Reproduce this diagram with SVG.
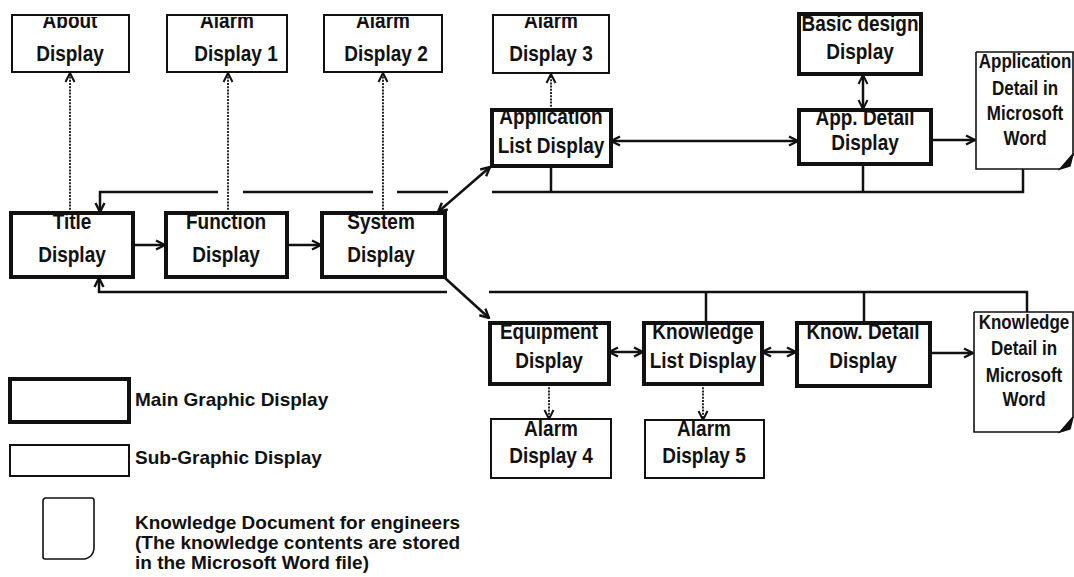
<svg xmlns="http://www.w3.org/2000/svg" width="1074" height="577" viewBox="0 0 1074 577">
<style>
  .bg{fill:#fff}
  .main{fill:#fff;stroke:#111;stroke-width:4}
  .sub{fill:#fff;stroke:#111;stroke-width:2}
  .doc{fill:#fff;stroke:#111;stroke-width:1.6}
  .t{font-family:"Liberation Sans",Arial,sans-serif;font-weight:bold;font-size:19px;fill:#111;text-anchor:middle}
  .td{font-family:"Liberation Sans",Arial,sans-serif;font-weight:bold;font-size:17px;fill:#111;text-anchor:middle}
  .lg{font-family:"Liberation Sans",Arial,sans-serif;font-weight:bold;font-size:19px;fill:#111}
  .ln{fill:none;stroke:#111;stroke-width:2.5}
  .dot{fill:none;stroke:#111;stroke-width:1.8;stroke-dasharray:2 1.2}
</style>
<defs>
  <marker id="ah" viewBox="0 0 12 12" refX="11" refY="6" markerWidth="12" markerHeight="12" markerUnits="userSpaceOnUse" orient="auto-start-reverse">
    <path d="M2,1.5 L11,6 L2,10.5" fill="none" stroke="#111" stroke-width="2.4"/>
  </marker>
  <marker id="ahs" viewBox="0 0 12 12" refX="11" refY="6" markerWidth="12" markerHeight="12" markerUnits="userSpaceOnUse" orient="auto-start-reverse">
    <path d="M2,1.5 L11,6 L2,10.5" fill="none" stroke="#111" stroke-width="2"/>
  </marker>
  <clipPath id="c-about"><rect x="13" y="17" width="115" height="54"/></clipPath>
  <clipPath id="c-al1"><rect x="168" y="17" width="118" height="54"/></clipPath>
  <clipPath id="c-al2"><rect x="325" y="17" width="116" height="54"/></clipPath>
  <clipPath id="c-al3"><rect x="494" y="17" width="114" height="55"/></clipPath>
  <clipPath id="c-basic"><rect x="801" y="16" width="118" height="56"/></clipPath>
  <clipPath id="c-appd"><rect x="801" y="112" width="128" height="50"/></clipPath>
  <clipPath id="c-appl"><rect x="494" y="112" width="115" height="52"/></clipPath>
  <clipPath id="c-appdoc"><rect x="977" y="53" width="97" height="115"/></clipPath>
  <clipPath id="c-title"><rect x="13" y="215" width="118" height="60"/></clipPath>
  <clipPath id="c-func"><rect x="168" y="215" width="117" height="60"/></clipPath>
  <clipPath id="c-sys"><rect x="324" y="215" width="119" height="60"/></clipPath>
  <clipPath id="c-equip"><rect x="492" y="325" width="115" height="57"/></clipPath>
  <clipPath id="c-kl"><rect x="646" y="325" width="114" height="57"/></clipPath>
  <clipPath id="c-kd"><rect x="799" y="325" width="129" height="59"/></clipPath>
  <clipPath id="c-kdoc"><rect x="975" y="313" width="99" height="118"/></clipPath>
  <clipPath id="c-al4"><rect x="492" y="420" width="118" height="57"/></clipPath>
  <clipPath id="c-al5"><rect x="646" y="421" width="117" height="56"/></clipPath>
</defs>
<rect class="bg" x="0" y="0" width="1074" height="577"/>

<g id="connectors">
  <!-- dotted links to alarm / about displays -->
  <line class="dot" x1="70" y1="213" x2="70" y2="73" marker-end="url(#ahs)"/>
  <line class="dot" x1="228" y1="213" x2="228" y2="73" marker-end="url(#ahs)"/>
  <line class="dot" x1="383" y1="213" x2="383" y2="73" marker-end="url(#ahs)"/>
  <line class="dot" x1="551" y1="110" x2="551" y2="74" marker-end="url(#ahs)"/>
  <line class="dot" x1="549" y1="384" x2="549" y2="419" marker-end="url(#ahs)"/>
  <line class="dot" x1="703" y1="384" x2="703" y2="420" marker-end="url(#ahs)"/>

  <!-- main flow -->
  <line class="ln" x1="133" y1="245" x2="165" y2="245" marker-end="url(#ah)"/>
  <line class="ln" x1="287" y1="245" x2="321" y2="245" marker-end="url(#ah)"/>
  <line class="ln" x1="438" y1="212" x2="490" y2="167" marker-start="url(#ah)" marker-end="url(#ah)"/>
  <line class="ln" x1="445" y1="278" x2="489" y2="318" marker-end="url(#ah)"/>
  <line class="ln" x1="611" y1="141" x2="798" y2="141" marker-start="url(#ah)" marker-end="url(#ah)"/>
  <line class="ln" x1="863" y1="75" x2="863" y2="109" stroke-width="2" marker-start="url(#ahs)" marker-end="url(#ahs)"/>
  <line class="ln" x1="931" y1="140" x2="975" y2="140" marker-end="url(#ah)"/>
  <line class="ln" x1="609" y1="352" x2="643" y2="352" marker-start="url(#ah)" marker-end="url(#ah)"/>
  <line class="ln" x1="762" y1="352" x2="796" y2="352" marker-start="url(#ah)" marker-end="url(#ah)"/>
  <line class="ln" x1="930" y1="353" x2="973" y2="353" marker-end="url(#ah)"/>

  <!-- upper return line to Title -->
  <path class="ln" d="M551,166 V192 M863,164 V192 M1023,169 V192 H492"/>
  <line class="ln" x1="448" y1="192" x2="397" y2="192"/>
  <line class="ln" x1="373" y1="192" x2="243" y2="192"/>
  <path class="ln" d="M218,192 H100 V212" marker-end="url(#ah)"/>

  <!-- lower return line to Title -->
  <path class="ln" d="M706,323 V292 M864,323 V292 M1027,312 V292 H489"/>
  <path class="ln" d="M447,292 H99 V278" marker-end="url(#ah)"/>
</g>

<g id="about">
  <rect class="sub" x="12" y="15" width="117" height="57"/>
  <g clip-path="url(#c-about)">
    <text class="t" transform="translate(70,28) scale(1,1.2)">About</text>
    <text class="t" transform="translate(70,61) scale(1,1.2)">Display</text>
  </g>
</g>
<g id="alarm1">
  <rect class="sub" x="167" y="15" width="120" height="57"/>
  <g clip-path="url(#c-al1)">
    <text class="t" transform="translate(227,28) scale(1,1.2)">Alarm</text>
    <text class="t" transform="translate(236,61) scale(1,1.2)">Display 1</text>
  </g>
</g>
<g id="alarm2">
  <rect class="sub" x="324" y="15" width="118" height="57"/>
  <g clip-path="url(#c-al2)">
    <text class="t" transform="translate(383,28) scale(1,1.2)">Alarm</text>
    <text class="t" transform="translate(386,61) scale(1,1.2)">Display 2</text>
  </g>
</g>
<g id="alarm3">
  <rect class="sub" x="493" y="15" width="116" height="58"/>
  <g clip-path="url(#c-al3)">
    <text class="t" transform="translate(551,28) scale(1,1.2)">Alarm</text>
    <text class="t" transform="translate(551,61) scale(1,1.2)">Display 3</text>
  </g>
</g>
<g id="basic-design">
  <rect class="main" x="799" y="14" width="122" height="60"/>
  <g clip-path="url(#c-basic)">
    <text class="t" transform="translate(860,31) scale(1,1.2)">Basic design</text>
    <text class="t" transform="translate(860,59) scale(1,1.2)">Display</text>
  </g>
</g>
<g id="app-detail">
  <rect class="main" x="799" y="110" width="132" height="54"/>
  <g clip-path="url(#c-appd)">
    <text class="t" transform="translate(865,125) scale(1,1.2)">App. Detail</text>
    <text class="t" transform="translate(865,150) scale(1,1.2)">Display</text>
  </g>
</g>
<g id="app-list">
  <rect class="main" x="492" y="110" width="119" height="56"/>
  <g clip-path="url(#c-appl)">
    <text class="t" transform="translate(551,124) scale(1,1.2)">Application</text>
    <text class="t" transform="translate(551,153) scale(1,1.2)">List Display</text>
  </g>
</g>
<g id="app-doc">
  <path class="doc" d="M976,52 H1073 V156 M976,52 V169 H1060"/>
  <path d="M1060,169 L1073,154 L1070,166 Z" fill="#111" stroke="#111" stroke-width="1.5"/>
  <g clip-path="url(#c-appdoc)">
    <text class="td" transform="translate(1025,68) scale(1,1.2)">Application</text>
    <text class="td" transform="translate(1025,95) scale(1,1.2)">Detail in</text>
    <text class="td" transform="translate(1025,120) scale(1,1.2)">Microsoft</text>
    <text class="td" transform="translate(1025,145) scale(1,1.2)">Word</text>
  </g>
</g>
<g id="title">
  <rect class="main" x="11" y="213" width="122" height="64"/>
  <g clip-path="url(#c-title)">
    <text class="t" transform="translate(72,229) scale(1,1.2)">Title</text>
    <text class="t" transform="translate(72,262) scale(1,1.2)">Display</text>
  </g>
</g>
<g id="function">
  <rect class="main" x="166" y="213" width="121" height="64"/>
  <g clip-path="url(#c-func)">
    <text class="t" transform="translate(226,229) scale(1,1.2)">Function</text>
    <text class="t" transform="translate(226,262) scale(1,1.2)">Display</text>
  </g>
</g>
<g id="system">
  <rect class="main" x="322" y="213" width="123" height="64"/>
  <g clip-path="url(#c-sys)">
    <text class="t" transform="translate(381,229) scale(1,1.2)">System</text>
    <text class="t" transform="translate(381,262) scale(1,1.2)">Display</text>
  </g>
</g>
<g id="equipment">
  <rect class="main" x="490" y="323" width="119" height="61"/>
  <g clip-path="url(#c-equip)">
    <text class="t" transform="translate(549,339) scale(1,1.2)">Equipment</text>
    <text class="t" transform="translate(549,368) scale(1,1.2)">Display</text>
  </g>
</g>
<g id="knowledge-list">
  <rect class="main" x="644" y="323" width="118" height="61"/>
  <g clip-path="url(#c-kl)">
    <text class="t" transform="translate(703,339) scale(1,1.2)">Knowledge</text>
    <text class="t" transform="translate(703,368) scale(1,1.2)">List Display</text>
  </g>
</g>
<g id="know-detail">
  <rect class="main" x="797" y="323" width="133" height="63"/>
  <g clip-path="url(#c-kd)">
    <text class="t" transform="translate(863,339) scale(1,1.2)">Know. Detail</text>
    <text class="t" transform="translate(863,368) scale(1,1.2)">Display</text>
  </g>
</g>
<g id="know-doc">
  <path class="doc" d="M974,312 H1073 V418 M974,312 V432 H1060"/>
  <path d="M1060,432 L1073,417 L1070,429 Z" fill="#111" stroke="#111" stroke-width="1.5"/>
  <g clip-path="url(#c-kdoc)">
    <text class="td" transform="translate(1024,329) scale(1,1.2)">Knowledge</text>
    <text class="td" transform="translate(1024,355) scale(1,1.2)">Detail in</text>
    <text class="td" transform="translate(1024,382) scale(1,1.2)">Microsoft</text>
    <text class="td" transform="translate(1024,406) scale(1,1.2)">Word</text>
  </g>
</g>
<g id="alarm4">
  <rect class="sub" x="491" y="419" width="120" height="59"/>
  <g clip-path="url(#c-al4)">
    <text class="t" transform="translate(551,436) scale(1,1.2)">Alarm</text>
    <text class="t" transform="translate(551,463) scale(1,1.2)">Display 4</text>
  </g>
</g>
<g id="alarm5">
  <rect class="sub" x="645" y="420" width="119" height="58"/>
  <g clip-path="url(#c-al5)">
    <text class="t" transform="translate(704,436) scale(1,1.2)">Alarm</text>
    <text class="t" transform="translate(704,463) scale(1,1.2)">Display 5</text>
  </g>
</g>

<g id="legend">
  <rect class="main" x="10" y="379" width="119" height="43"/>
  <text class="lg" x="135" y="406">Main Graphic Display</text>
  <rect class="sub" x="10" y="445" width="119" height="31"/>
  <text class="lg" x="135" y="464">Sub-Graphic Display</text>
  <path class="doc" d="M46,498 H92 Q94,498 94,501 V549 Q93,557 85,559 H45 Q43,559 43,557 V501 Q43,498 46,498 Z" stroke-width="2"/>
  <text class="lg" x="135" y="529">Knowledge Document for engineers</text>
  <text class="lg" x="135" y="549">(The knowledge contents are stored</text>
  <text class="lg" x="135" y="569">in the Microsoft Word file)</text>
</g>
</svg>
